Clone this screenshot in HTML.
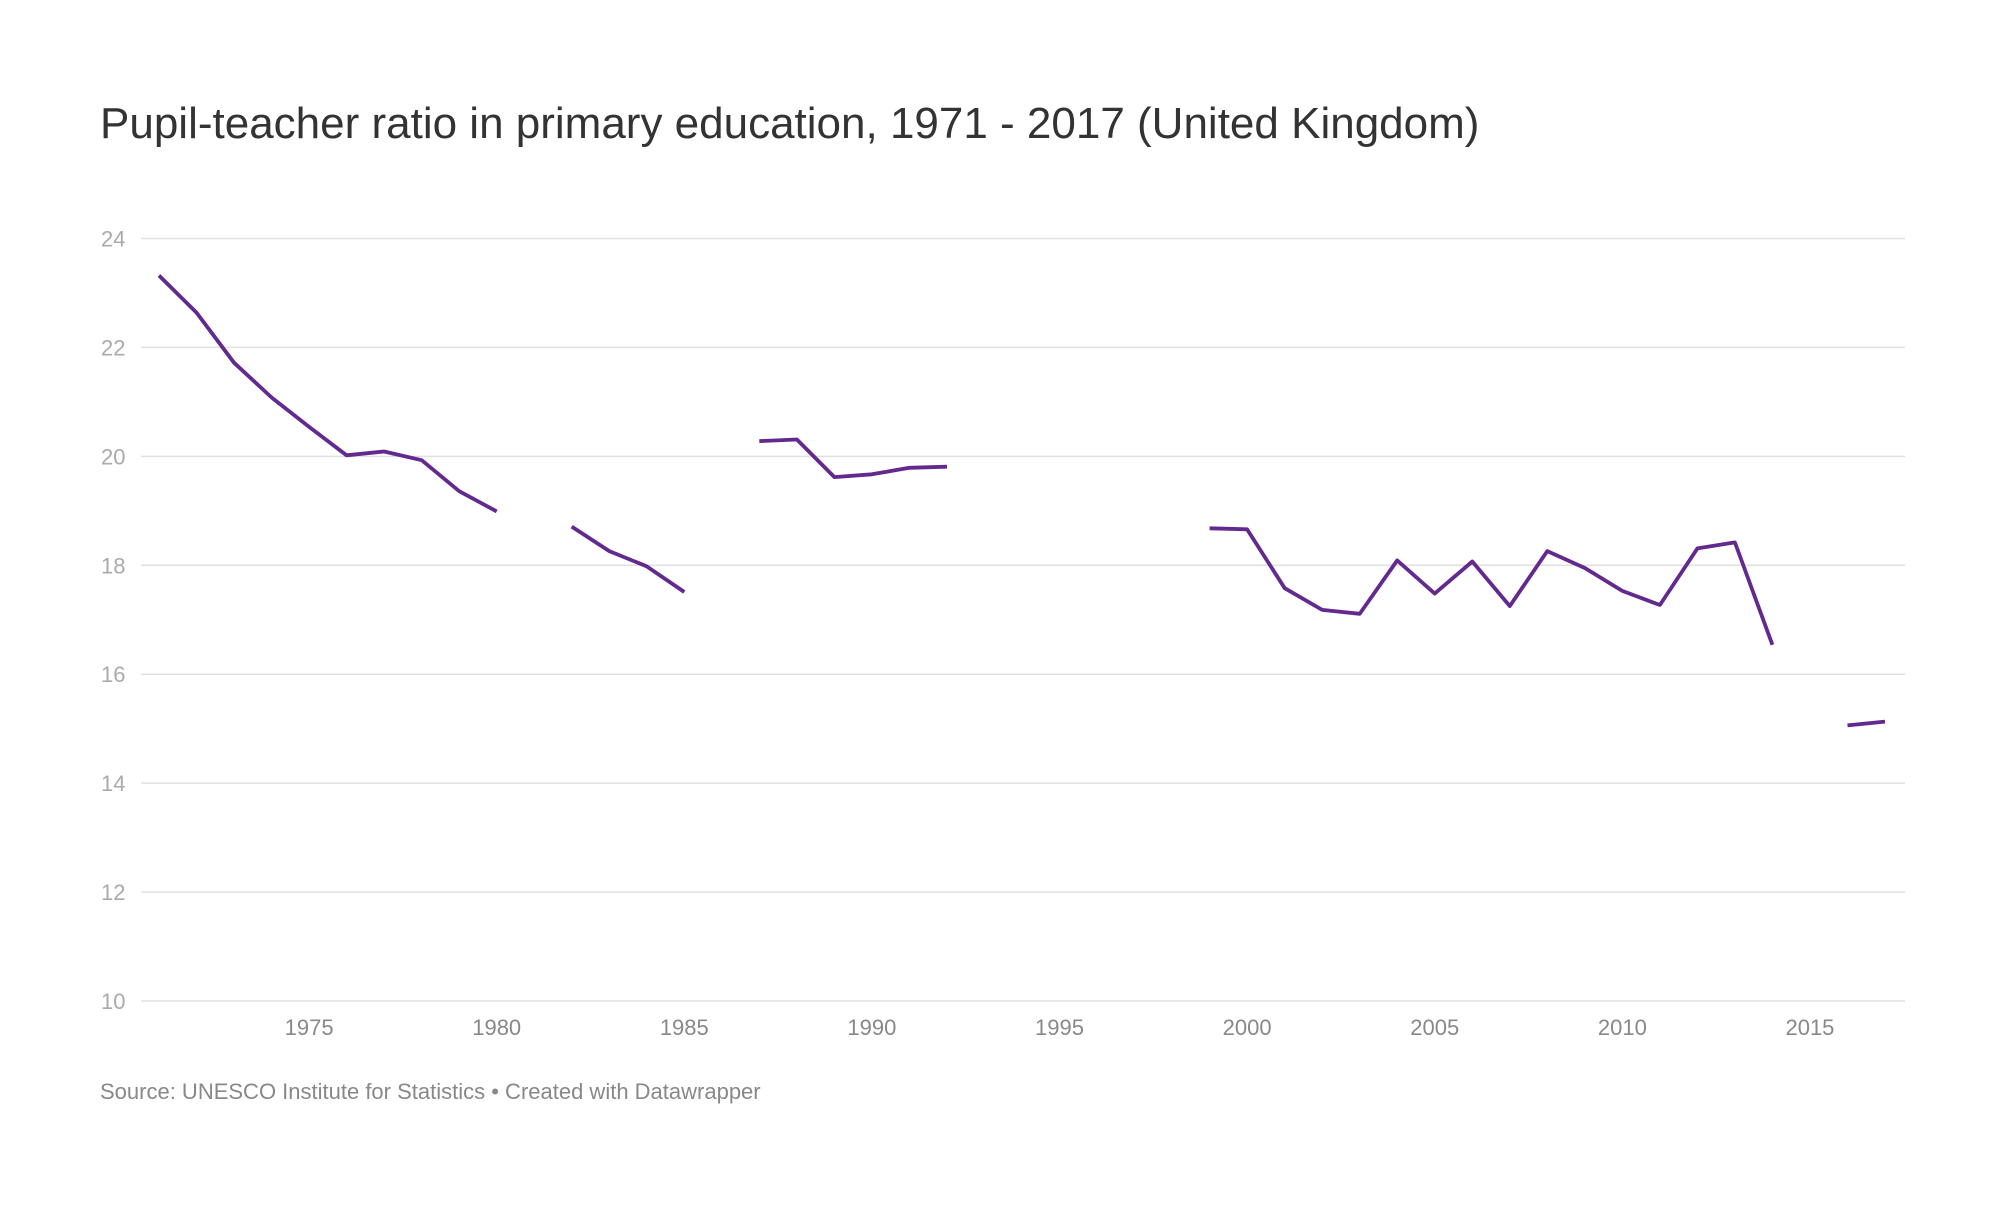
<!DOCTYPE html>
<html><head><meta charset="utf-8"><style>
html,body{margin:0;padding:0;background:#fff;}
body{width:2000px;height:1200px;overflow:hidden;font-family:"Liberation Sans",sans-serif;}
</style></head><body>
<svg width="2000" height="1200" xmlns="http://www.w3.org/2000/svg">
<text x="100" y="138" font-size="44" fill="#333">Pupil-teacher ratio in primary education, 1971 - 2017 (United Kingdom)</text>
<g id="grid"></g>
<g id="xt"></g>
<g id="lines"></g>
<text x="100" y="1099" font-size="22" fill="#888">Source: UNESCO Institute for Statistics • Created with Datawrapper</text>
</svg>
<script>
const years=[1971,1972,1973,1974,1975,1976,1977,1978,1979,1980,1981,1982,1983,1984,1985,1986,1987,1988,1989,1990,1991,1992,1993,1994,1995,1996,1997,1998,1999,2000,2001,2002,2003,2004,2005,2006,2007,2008,2009,2010,2011,2012,2013,2014,2015,2016,2017];
const ratios=[23.32,22.64,21.72,21.08,20.54,20.02,20.09,19.93,19.36,18.99,null,18.71,18.26,17.98,17.51,null,20.28,20.31,19.62,19.67,19.79,19.81,null,null,null,null,null,null,18.68,18.66,17.58,17.18,17.11,18.09,17.48,18.07,17.25,18.26,17.95,17.53,17.27,18.31,18.42,16.54,null,15.06,15.13];
const yTicks=[10,12,14,16,18,20,22,24];
const xTicks=[1975,1980,1985,1990,1995,2000,2005,2010,2015];
const NS="http://www.w3.org/2000/svg";
const x=v=>159+(v-1971)*(1885-159)/(2017-1971);
const y=v=>1001-(v-10)*(1001-238.5)/14;
const grid=document.getElementById('grid'),xt=document.getElementById('xt'),lines=document.getElementById('lines');
yTicks.forEach(t=>{
  const l=document.createElementNS(NS,'line');
  
  
  l.setAttribute('x1',141);l.setAttribute('x2',1905);l.setAttribute('y1',y(t));l.setAttribute('y2',y(t));
  l.setAttribute('stroke','#e0e0e0');l.setAttribute('stroke-width','1.5');grid.appendChild(l);
  const tx=document.createElementNS(NS,'text');
  
  
  tx.setAttribute('x',101);tx.setAttribute('y',y(t)+8);tx.setAttribute('font-size','22');tx.setAttribute('fill','#aaa');
  tx.textContent=t;grid.appendChild(tx);
});
xTicks.forEach(t=>{
  const tx=document.createElementNS(NS,'text');
  
  
  tx.setAttribute('x',x(t));tx.setAttribute('y',1035);tx.setAttribute('font-size','22');tx.setAttribute('fill','#888');tx.setAttribute('text-anchor','middle');
  tx.textContent=t;xt.appendChild(tx);
});
let seg=[];
function flush(){
  if(seg.length>1){
    const p=document.createElementNS(NS,'polyline');
    
    
    p.setAttribute('points',seg.join(' '));p.setAttribute('fill','none');p.setAttribute('stroke','#62298f');
    p.setAttribute('stroke-width','3.8');p.setAttribute('stroke-linejoin','round');lines.appendChild(p);
  }
  seg=[];
}
years.forEach((yr,i)=>{const v=ratios[i];if(v==null){flush();}else seg.push(x(yr).toFixed(1)+','+y(v).toFixed(1));});
flush();
</script>
</body></html>
